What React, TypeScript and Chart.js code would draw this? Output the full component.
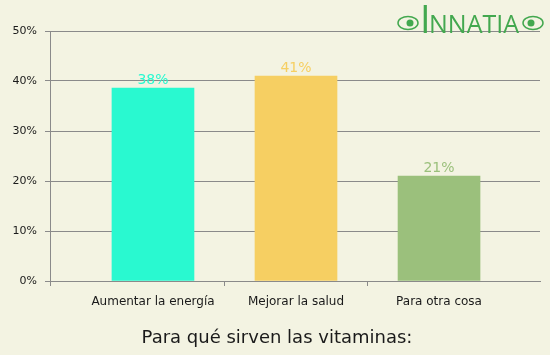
import React, { useEffect, useRef } from 'react';
import { Chart, registerables } from 'chart.js';

Chart.register(...registerables);

const categories = ['Aumentar la energía', 'Mejorar la salud', 'Para otra cosa'];
const values = [38.6, 41, 21];
const valueLabels = ['38%', '41%', '21%'];
const barColors = ['#29F9D0', '#F6CF62', '#9BC07C'];
const yTicks = [0, 10, 20, 30, 40, 50];
const chartTitle = 'Para qué sirven las vitaminas:';
const logoFirst = 'I';
const logoRest = 'NNATIA';

const FONT = '"DejaVu Sans", Verdana, sans-serif';
const BG = '#F3F3E2';
const GRID = '#8A8A8A';
const TEXT = '#1A1A1A';
const LOGO = '#43A84F';

const valueLabelPlugin = {
  id: 'valueLabels',
  afterDatasetsDraw(chart: any) {
    const ctx = chart.ctx;
    const meta = chart.getDatasetMeta(0);
    ctx.save();
    ctx.font = `14px ${FONT}`;
    ctx.textAlign = 'center';
    ctx.textBaseline = 'middle';
    meta.data.forEach((bar: any, i: number) => {
      ctx.fillStyle = barColors[i];
      ctx.fillText(valueLabels[i], bar.x, bar.y - 8);
    });
    ctx.restore();
  },
};

const titlePlugin = {
  id: 'bottomTitle',
  afterDraw(chart: any) {
    const ctx = chart.ctx;
    ctx.save();
    ctx.font = `18px ${FONT}`;
    ctx.fillStyle = TEXT;
    ctx.textAlign = 'center';
    ctx.textBaseline = 'middle';
    ctx.fillText(chartTitle, chart.width / 2 + 2, 338);
    ctx.restore();
  },
};

const logoPlugin = {
  id: 'logo',
  afterDraw(chart: any) {
    const ctx = chart.ctx;
    ctx.save();
    ctx.fillStyle = LOGO;
    ctx.strokeStyle = LOGO;
    ctx.textBaseline = 'alphabetic';
    ctx.textAlign = 'left';
    ctx.font = '38px "Open Sans", sans-serif';
    ctx.fillText(logoFirst, 420, 33);
    ctx.font = '25px "Open Sans", sans-serif';
    ctx.fillText(logoRest, 429, 33, 92);
    // ornaments
    const eye = (cx: number, dir: number) => {
      ctx.lineWidth = 1.5;
      ctx.beginPath();
      ctx.ellipse(cx, 23, 10, 6.5, 0, 0, Math.PI * 2);
      ctx.stroke();
      ctx.beginPath();
      ctx.arc(cx + dir * 2, 23, 3.5, 0, Math.PI * 2);
      ctx.fill();
    };
    eye(408, 1);
    eye(533, -1);
    ctx.restore();
  },
};

export default function App() {
  const ref = useRef<HTMLCanvasElement>(null);
  useEffect(() => {
    if (!ref.current) return;
    const chart = new Chart(ref.current, {
      type: 'bar',
      data: {
        datasets: [
          {
            data: categories.map((c, i) => ({ x: i + 1, y: values[i] })) as any,
            backgroundColor: barColors,
            borderWidth: 0,
            barThickness: 82,
          },
        ],
      },
      options: {
        animation: false,
        responsive: false,
        devicePixelRatio: 1,
        events: [],
        layout: { padding: { top: 31, right: 10, left: 0, bottom: 0 } },
        plugins: {
          legend: { display: false },
          tooltip: { enabled: false },
          title: { display: false },
        },
        scales: {
          x: {
            type: 'linear',
            min: 0.28,
            max: 3.706,
            bounds: 'data',
            offset: false,
            afterBuildTicks: (s: any) => {
              s.ticks = [s.min, 1, 1.5, 2, 2.5, 3].map((value) => ({ value }));
            },
            afterFit: (s: any) => {
              s.height = 74;
            },
            grid: {
              drawOnChartArea: false,
              offset: false,
              tickLength: 5,
              color: GRID,
              tickColor: (c: any) =>
                c.tick && Number.isInteger(c.tick.value) ? 'rgba(0,0,0,0)' : GRID,
            },
            border: { color: GRID },
            ticks: {
              autoSkip: false,
              maxRotation: 0,
              minRotation: 0,
              padding: 9,
              color: TEXT,
              font: { family: FONT, size: 12 },
              callback: (v: any) =>
                Number.isInteger(v) ? categories[v - 1] : '',
            },
          },
          y: {
            type: 'linear',
            min: 0,
            max: 50,
            afterBuildTicks: (s: any) => {
              s.ticks = yTicks.map((value) => ({ value }));
            },
            afterFit: (s: any) => {
              s.width = 50;
            },
            grid: { color: GRID, tickLength: 5 },
            border: { color: GRID },
            ticks: {
              padding: 8,
              color: TEXT,
              font: { family: FONT, size: 11 },
              callback: (v: any) => `${v}%`,
            },
          },
        },
      },
      plugins: [valueLabelPlugin, titlePlugin, logoPlugin],
    });
    return () => chart.destroy();
  }, []);
  return (
    <div
      style={{
        position: 'absolute',
        left: 0,
        top: 0,
        width: 550,
        height: 355,
        background: BG,
      }}
    >
      <canvas ref={ref} width={550} height={355} style={{ display: 'block' }} />
    </div>
  );
}
